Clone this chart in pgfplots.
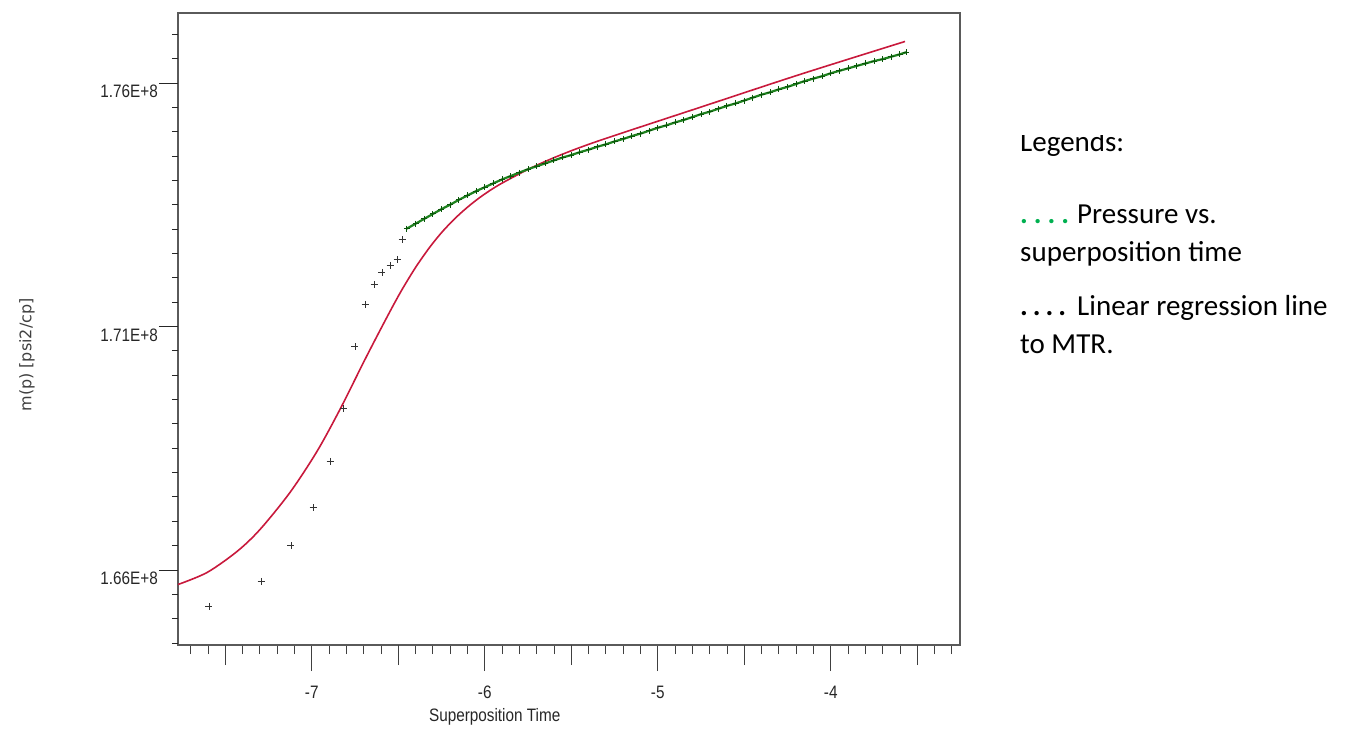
\documentclass[border=0pt]{standalone}
\usepackage{pgfplots}
\pgfplotsset{compat=1.18}
\usepackage{fontspec}
\setmainfont{Carlito}
\newfontfamily\narrowfont[FakeStretch=0.85]{Liberation Sans}
\newfontfamily\dejavu{DejaVu Sans}
\definecolor{redline}{RGB}{200,25,60}
\definecolor{greenpts}{RGB}{30,130,30}
\definecolor{greenmark}{RGB}{10,85,10}
\definecolor{dotgreen}{RGB}{0,176,80}
\definecolor{axisgray}{RGB}{90,90,90}

\pgfplotstableread{
x y
-7.594 1.65251e8
-7.293 1.65764e8
-7.120 1.66503e8
-6.992 1.67283e8
-6.894 1.68228e8
-6.819 1.69316e8
-6.750 1.70589e8
-6.692 1.71452e8
-6.640 1.71862e8
-6.594 1.72109e8
-6.547 1.72253e8
-6.507 1.72376e8
-6.478 1.72786e8
}\earlypts

\pgfplotstableread{
x y
-6.45 1.7301e8
-6.40 1.7311e8
-6.35 1.7321e8
-6.30 1.7331e8
-6.25 1.7341e8
-6.20 1.7350e8
-6.15 1.7360e8
-6.10 1.7369e8
-6.05 1.7378e8
-6.00 1.7386e8
-5.95 1.7394e8
-5.90 1.7402e8
-5.85 1.7409e8
-5.80 1.7416e8
-5.75 1.7423e8
-5.70 1.7429e8
-5.65 1.7435e8
-5.60 1.7441e8
-5.55 1.7447e8
-5.50 1.7452e8
-5.45 1.7458e8
-5.40 1.7463e8
-5.35 1.7469e8
-5.30 1.7474e8
-5.25 1.7480e8
-5.20 1.7485e8
-5.15 1.7491e8
-5.10 1.7496e8
-5.05 1.7502e8
-5.00 1.7508e8
-4.95 1.7513e8
-4.90 1.7519e8
-4.85 1.7524e8
-4.80 1.7530e8
-4.75 1.7536e8
-4.70 1.7541e8
-4.65 1.7547e8
-4.60 1.7553e8
-4.55 1.7558e8
-4.50 1.7564e8
-4.45 1.7570e8
-4.40 1.7576e8
-4.35 1.7581e8
-4.30 1.7587e8
-4.25 1.7592e8
-4.20 1.7598e8
-4.15 1.7604e8
-4.10 1.7609e8
-4.05 1.7614e8
-4.00 1.7620e8
-3.95 1.7625e8
-3.90 1.7630e8
-3.85 1.7635e8
-3.80 1.7640e8
-3.75 1.7645e8
-3.70 1.7649e8
-3.65 1.7654e8
-3.60 1.7659e8
-3.565 1.7663e8
}\greenpts

\pgfplotstableread{
x y
-7.773 1.65702e8
-7.605 1.65949e8
-7.432 1.66380e8
-7.299 1.66832e8
-7.126 1.67591e8
-6.970 1.68433e8
-6.837 1.69296e8
-6.704 1.70240e8
-6.640 1.70684e8
-6.576 1.71119e8
-6.524 1.71466e8
-6.472 1.71795e8
-6.397 1.72228e8
-6.316 1.72637e8
-6.241 1.72963e8
-6.160 1.73259e8
-6.085 1.73493e8
-6.010 1.73696e8
-5.912 1.73920e8
-5.738 1.74246e8
-5.565 1.74517e8
-5.334 1.74821e8
-4.756 1.75499e8
-4.178 1.76175e8
-3.571 1.76852e8
}\redfit

\begin{document}
\begin{tikzpicture}[x=1pt,y=1pt]
\useasboundingbox (0,0) rectangle (1348,736);
% main axis: box, data, x ticks
\begin{axis}[
  at={(178pt,91pt)}, anchor=south west,
  width=782pt, height=632pt, scale only axis,
  xmin=-7.773, xmax=-3.253,
  ymin=1.6446e8, ymax=1.77437e8,
  axis line style={axisgray, line width=1.5pt},
  xtick={-7,-6,-5,-4}, xticklabels={-7,-6,-5,-4},
  minor xtick={-7.7,-7.6,-7.4,-7.3,-7.2,-7.1,-6.9,-6.8,-6.7,-6.6,-6.4,-6.3,-6.2,-6.1,-5.9,-5.8,-5.7,-5.6,-5.4,-5.3,-5.2,-5.1,-4.9,-4.8,-4.7,-4.6,-4.4,-4.3,-4.2,-4.1,-3.9,-3.8,-3.7,-3.6,-3.4,-3.3},
  extra x ticks={-7.5,-6.5,-5.5,-4.5,-3.5},
  extra x tick labels={},
  extra x tick style={major tick length=20pt},
  xtick pos=left,
  ytick=\empty,
  scaled ticks=false,
  tick align=outside,
  major tick length=26pt, minor tick length=9pt,
  every tick/.style={black!75, line width=0.8pt},
  xticklabel style={font=\narrowfont\fontsize{18}{20}\selectfont, text=black!85, inner sep=0pt, yshift=-15pt},
  xlabel={Superposition Time},
  xlabel style={font=\narrowfont\fontsize{18}{20}\selectfont, text=black!85, at={(axis description cs:0.405,-0.114)}, anchor=center},
  clip=false,
]
\addplot[redline, line width=1.6pt, smooth, tension=0.5] table {\redfit};
\addplot[only marks, mark=+, mark size=3.5pt, black!80, mark options={line width=0.9pt}] table {\earlypts};
\addplot[greenpts, line width=2.2pt, mark=+, mark size=3pt, mark options={greenmark, line width=1pt}] table {\greenpts};
\end{axis}
% second axis: y ticks only
\begin{axis}[
  at={(178pt,91pt)}, anchor=south west,
  width=782pt, height=632pt, scale only axis,
  xmin=-7.773, xmax=-3.253,
  ymin=1.6446e8, ymax=1.77437e8,
  hide x axis, xtick=\empty,
  scaled ticks=false,
  y axis line style={draw=none},
  ytick={1.66e8,1.71e8,1.76e8}, yticklabels={1.66E+8,1.71E+8,1.76E+8},
  minor ytick={1.645e8,1.65e8,1.655e8,1.665e8,1.67e8,1.675e8,1.68e8,1.685e8,1.69e8,1.695e8,1.70e8,1.705e8,1.715e8,1.72e8,1.725e8,1.73e8,1.735e8,1.74e8,1.745e8,1.75e8,1.755e8,1.765e8,1.77e8},
  ytick pos=left,
  tick align=outside,
  major tick length=19pt, minor tick length=6pt,
  every tick/.style={black!85, line width=0.9pt},
  yticklabel style={font=\narrowfont\fontsize{18}{20}\selectfont, text=black!85, inner sep=0pt, anchor=north east, yshift=-2pt, xshift=-1pt},
  ylabel={m(p) [psi2/cp]},
  ylabel style={font=\dejavu\fontsize{16}{18}\selectfont, text=black!75, at={(axis description cs:-0.193,0.459)}, anchor=center},
]
\end{axis}
% legend text
\begin{scope}
\clip (1000,0) rectangle (1348,600);
\node[anchor=base west, inner sep=0pt, font=\fontsize{29}{36}\selectfont] at (1020,584) {Legends:};
\end{scope}
\node[anchor=base west, inner sep=0pt, font=\bfseries\fontsize{29}{36}\selectfont, text=dotgreen] at (1020,512) {.\kern6pt.\kern6pt.\kern6pt.};
\node[anchor=base west, inner sep=0pt, font=\fontsize{29}{36}\selectfont] at (1077,512) {Pressure vs.};
\node[anchor=base west, inner sep=0pt, font=\fontsize{29}{36}\selectfont] at (1020,474) {superposition time};
\node[anchor=base west, inner sep=0pt, font=\bfseries\fontsize{29}{36}\selectfont] at (1020,420) {.\kern5pt.\kern5pt.\kern5pt.};
\node[anchor=base west, inner sep=0pt, font=\fontsize{29}{36}\selectfont] at (1077,420) {Linear regression line};
\node[anchor=base west, inner sep=0pt, font=\fontsize{29}{36}\selectfont] at (1020,382) {to MTR.};
\end{tikzpicture}
\end{document}
